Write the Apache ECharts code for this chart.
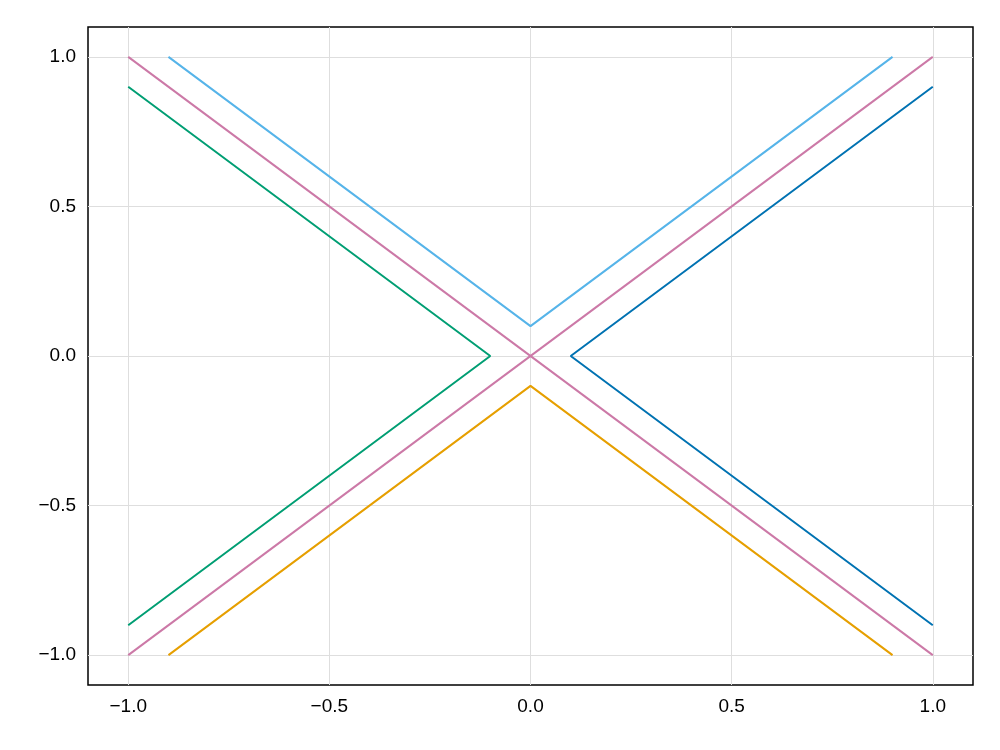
<!DOCTYPE html>
<html>
<head>
<meta charset="utf-8">
<script src="https://cdn.jsdelivr.net/npm/echarts@6/dist/echarts.min.js"></script>
</head>
<body style="margin:0">
<div id="main" style="width:1000px;height:750px;"></div>
<script>
var ticks = [-1.0, -0.5, 0.0, 0.5, 1.0];
var lightBlue = [[-0.9, 1.0], [0.0, 0.1], [0.9, 1.0]];
var blue = [[1.0, 0.9], [0.1, 0.0], [1.0, -0.9]];
var orange = [[-0.9, -1.0], [0.0, -0.1], [0.9, -1.0]];
var green = [[-1.0, 0.9], [-0.1, 0.0], [-1.0, -0.9]];
var pinkA = [[-1.0, 1.0], [1.0, -1.0]];
var pinkB = [[-1.0, -1.0], [1.0, 1.0]];

function fmt(v) { return v.toFixed(1).replace('-', '\u2212'); }
function axis() {
  return {
    type: 'value', min: -1.1, max: 1.1,
    axisLine: { show: false, onZero: false },
    axisTick: { show: false, customValues: ticks },
    axisLabel: { customValues: ticks, formatter: fmt, color: '#000', fontSize: 19, fontFamily: 'Liberation Sans', margin: 12 },
    splitLine: { show: true, lineStyle: { color: '#dedede' } }
  };
}
var chart = echarts.init(document.getElementById('main'));
function s(d, c) { return { type: 'line', data: d, symbol: 'none', lineStyle: { color: c, width: 2 }, itemStyle: { color: c }, animation: false }; }
chart.setOption({
  grid: { left: 88, right: 27, top: 27, bottom: 65, show: true, borderColor: '#000', borderWidth: 1.5 },
  xAxis: axis(),
  yAxis: axis(),
  series: [s(lightBlue, '#56B4E9'), s(blue, '#0072B2'), s(orange, '#E69F00'), s(green, '#009E73'), s(pinkA, '#CC79A7'), s(pinkB, '#CC79A7')]
});
</script>
</body>
</html>
